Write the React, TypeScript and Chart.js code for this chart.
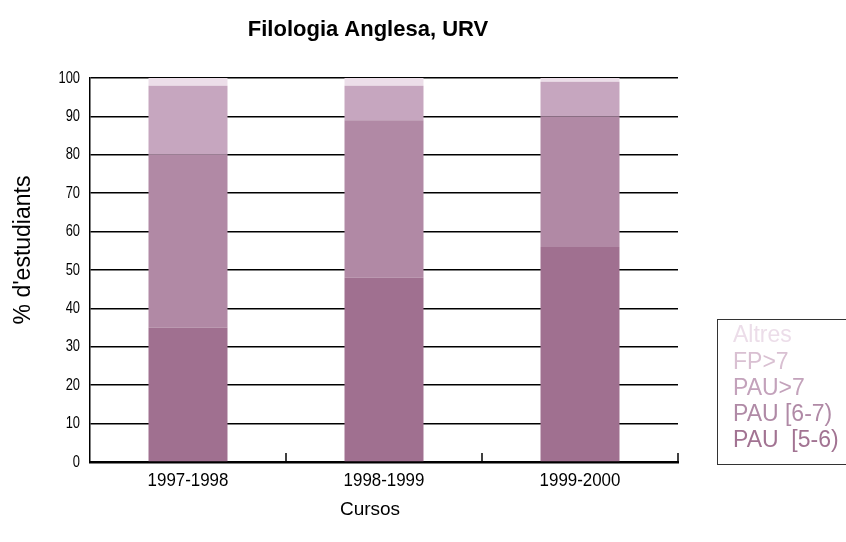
import React, { useEffect, useRef } from "react";
import { Chart, registerables } from "chart.js";

Chart.register(...registerables);

const categories = ["1997-1998", "1998-1999", "1999-2000"];
const pau56 = [35, 48, 56];
const pau67 = [45, 41, 34];
const pau7 = [18, 9, 9];
const fp7 = [0, 0, 0];
const altres = [2, 2, 1];
const yTicks = [0, 10, 20, 30, 40, 50, 60, 70, 80, 90, 100];

const seriesNames = ["PAU  [5-6)", "PAU [6-7)", "PAU>7", "FP>7", "Altres"];
const seriesColors = ["#a07090", "#b189a5", "#c6a6bf", "#dcc3d6", "#ecdee9"];
const legendColors = ["#a27392", "#b08aa6", "#c3a2bb", "#d9c0d2", "#ecdde9"];

const TITLE = "Filologia Anglesa, URV";
const Y_TITLE = "% d'estudiants";
const X_TITLE = "Cursos";

const SANS = "'Liberation Sans', Arial, sans-serif";

function condensed(ctx: any, text: string, x: number, y: number, sx: number) {
  ctx.save();
  ctx.translate(x, y);
  ctx.scale(sx, 1);
  ctx.fillText(text, 0, 0);
  ctx.restore();
}

const decorPlugin = {
  id: "decor",
  afterDatasetsDraw(chart: any) {
    const ctx = chart.ctx;
    const x = chart.scales.x;
    const area = chart.chartArea;
    ctx.save();
    ctx.strokeStyle = "#000";
    ctx.lineWidth = 1.5;
    const n = categories.length;
    const half = (x.getPixelForValue(1) - x.getPixelForValue(0)) / 2;
    for (let i = 0; i < n; i++) {
      const px = x.getPixelForValue(i) + half;
      ctx.beginPath();
      ctx.moveTo(px, area.bottom - 9);
      ctx.lineTo(px, area.bottom);
      ctx.stroke();
    }
    ctx.restore();
  },
  afterDraw(chart: any) {
    const ctx = chart.ctx;
    const area = chart.chartArea;
    const xs = chart.scales.x;
    const ys = chart.scales.y;
    ctx.save();
    ctx.fillStyle = "#000";
    // y tick labels (condensed)
    ctx.font = `17px ${SANS}`;
    ctx.textAlign = "right";
    ctx.textBaseline = "middle";
    yTicks.forEach((v) => {
      condensed(ctx, String(v), area.left - 10, ys.getPixelForValue(v), 0.76);
    });
    // x tick labels (condensed)
    ctx.font = `19px ${SANS}`;
    ctx.textAlign = "center";
    ctx.textBaseline = "middle";
    categories.forEach((c, i) => {
      condensed(ctx, c, xs.getPixelForValue(i), area.bottom + 19, 0.89);
    });
    // title
    ctx.textAlign = "center";
    ctx.textBaseline = "alphabetic";
    ctx.font = `bold 22px ${SANS}`;
    ctx.fillText(TITLE, 368, 36);
    // x title
    ctx.font = `19px ${SANS}`;
    ctx.fillText(X_TITLE, 370, 515);
    // y title
    ctx.save();
    ctx.translate(30, 250);
    ctx.rotate(-Math.PI / 2);
    ctx.font = `23px ${SANS}`;
    ctx.fillText(Y_TITLE, 0, 0);
    ctx.restore();
    // legend
    ctx.fillStyle = "#fff";
    ctx.fillRect(717, 319, 140, 145);
    ctx.strokeStyle = "#333";
    ctx.lineWidth = 1;
    ctx.strokeRect(717.5, 319.5, 140, 145);
    ctx.font = `23px ${SANS}`;
    ctx.textAlign = "left";
    ctx.textBaseline = "middle";
    const order = [4, 3, 2, 1, 0];
    order.forEach((k, i) => {
      ctx.fillStyle = legendColors[k];
      ctx.fillText(seriesNames[k], 733, 336 + i * 26.2);
    });
    ctx.restore();
  },
};

export default function App() {
  const ref = useRef<HTMLCanvasElement>(null);
  useEffect(() => {
    if (!ref.current) return;
    const values = [pau56, pau67, pau7, fp7, altres];
    const chart = new Chart(ref.current, {
      type: "bar",
      data: {
        labels: categories,
        datasets: values.map((v, i) => ({
          label: seriesNames[i],
          data: v,
          backgroundColor: seriesColors[i],
          borderWidth: 0,
          categoryPercentage: 1,
          barPercentage: 0.403,
        })),
      },
      options: {
        responsive: false,
        animation: false,
        layout: { padding: { top: 78, right: 168, left: 0, bottom: 0 } },
        plugins: {
          legend: { display: false },
          title: { display: false },
          tooltip: { enabled: false },
        },
        scales: {
          x: {
            stacked: true,
            grid: { display: false, drawTicks: false },
            border: { display: true, color: "#000", width: 2.5 },
            ticks: { display: false },
            afterFit: (s: any) => {
              s.height = 80;
            },
          },
          y: {
            stacked: true,
            min: 0,
            max: 100,
            afterBuildTicks: (s: any) => {
              s.ticks = yTicks.map((v) => ({ value: v }));
            },
            grid: { color: "#000", lineWidth: 1.5, drawTicks: false },
            border: { display: true, color: "#000", width: 1.5 },
            ticks: { display: false },
            afterFit: (s: any) => {
              s.width = 90;
            },
          },
        },
      },
      plugins: [decorPlugin],
    });
    return () => chart.destroy();
  }, []);
  return (
    <div style={{ position: "absolute", left: 0, top: 0, width: 846, height: 542, background: "#fff" }}>
      <canvas ref={ref} width={846} height={542} />
    </div>
  );
}
